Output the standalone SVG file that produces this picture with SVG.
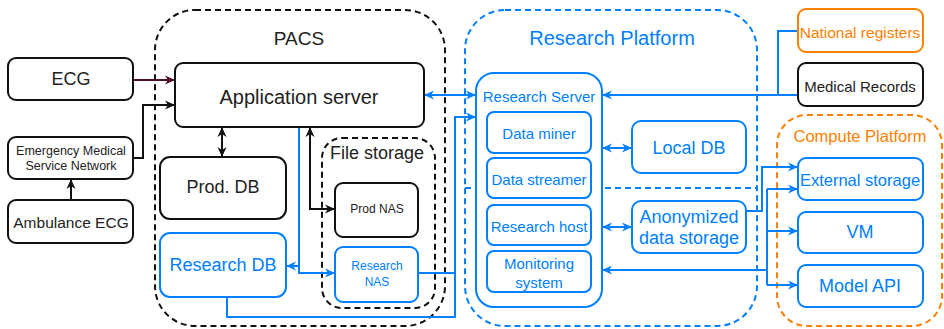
<svg xmlns="http://www.w3.org/2000/svg" width="944" height="329" viewBox="0 0 944 329">
<defs>
<marker id="ab" viewBox="0 0 10 10" refX="10" refY="5" markerWidth="10" markerHeight="10" markerUnits="userSpaceOnUse" orient="auto-start-reverse"><path d="M0,0.5 L10,5 L0,9.5 L3,5 z" fill="#111"/></marker>
<marker id="au" viewBox="0 0 10 10" refX="10" refY="5" markerWidth="10" markerHeight="10" markerUnits="userSpaceOnUse" orient="auto-start-reverse"><path d="M0,0.5 L10,5 L0,9.5 L3,5 z" fill="#007FFF"/></marker>
<marker id="am" viewBox="0 0 10 10" refX="10" refY="5" markerWidth="10" markerHeight="10" markerUnits="userSpaceOnUse" orient="auto-start-reverse"><path d="M0,0.5 L10,5 L0,9.5 L3,5 z" fill="#4A0F2B"/></marker>
</defs>
<style>
text{font-family:"Liberation Sans",Arial,sans-serif;text-anchor:middle;dominant-baseline:central;fill:#222}
.bx{fill:#fff;stroke:#111;stroke-width:2}
.bb{fill:#fff;stroke:#007FFF;stroke-width:2}
.bo{fill:#fff;stroke:#FF8000;stroke-width:2}
.tb{fill:#007FFF}
.to{fill:#FF8000}
.ck{fill:none;stroke:#111;stroke-width:2;stroke-dasharray:6 4}
.cb{fill:none;stroke:#007FFF;stroke-width:2;stroke-dasharray:6 4}
.co{fill:none;stroke:#FF8000;stroke-width:2;stroke-dasharray:6 4}
.lk{fill:none;stroke:#111;stroke-width:2}
.lb{fill:none;stroke:#007FFF;stroke-width:2}
.lm{fill:none;stroke:#4A0F2B;stroke-width:2}
</style>
<rect width="944" height="329" fill="#fff"/>

<g id="containers">
<g id="pacs"><rect class="ck" x="155" y="10" width="290" height="316" rx="40"/><text x="299" y="38" font-size="19">PACS</text></g>
<g id="research-platform"><rect class="cb" x="465" y="10" width="292" height="316" rx="40"/><text class="tb" x="612" y="38" font-size="20">Research Platform</text></g>
<g id="compute-platform"><rect class="co" x="777" y="115" width="165" height="211" rx="30"/><text class="to" x="860" y="136" font-size="16.5">Compute Platform</text></g>
<g id="file-storage"><rect class="ck" x="322" y="138" width="113" height="170" rx="20"/><text x="377" y="153" font-size="18">File storage</text></g>
</g>

<path class="cb" d="M465,188 H757"/>

<g id="connectors">
<path class="lm" d="M133,80 H175" marker-end="url(#am)"/>
<path class="lk" d="M133,158 H143 V105 H175" marker-end="url(#ab)"/>
<path class="lk" d="M71,200 V179" marker-end="url(#ab)"/>
<path class="lk" d="M222,127 V157" marker-start="url(#ab)" marker-end="url(#ab)"/>
<path class="lk" d="M310,127 V209 H335" marker-start="url(#ab)" marker-end="url(#ab)"/>
<path class="lb" d="M299,127 V273 H335" marker-end="url(#au)"/>
<path class="lb" d="M299,266 H286" marker-end="url(#au)"/>
<path class="lb" d="M424,95 H476" marker-start="url(#au)" marker-end="url(#au)"/>
<path class="lb" d="M227,297 V317 H455 V117 H476" marker-end="url(#au)"/>
<path class="lb" d="M418,273 H455"/>
<path class="lb" d="M798,95 H602" marker-end="url(#au)"/>
<path class="lb" d="M798,31 H778 V95"/>
<path class="lb" d="M602,148 H632" marker-start="url(#au)" marker-end="url(#au)"/>
<path class="lb" d="M602,227 H632" marker-start="url(#au)" marker-end="url(#au)"/>
<path class="lb" d="M746,211 H762 V167 H798" marker-end="url(#au)"/>
<path class="lb" d="M767,270 H602" marker-end="url(#au)"/>
<path class="lb" d="M767,189 V285"/>
<path class="lb" d="M767,189 H798" marker-end="url(#au)"/>
<path class="lb" d="M767,231 H798" marker-end="url(#au)"/>
<path class="lb" d="M767,285 H798" marker-end="url(#au)"/>
</g>

<g id="ecg"><rect class="bx" x="8" y="58" width="125" height="42" rx="8"/><text x="71" y="79" font-size="18">ECG</text></g>
<g id="ems"><rect class="bx" x="8" y="137" width="125" height="42" rx="8"/><text x="71" y="151" font-size="12.5">Emergency Medical</text><text x="71" y="166" font-size="12.5">Service Network</text></g>
<g id="ambulance-ecg"><rect class="bx" x="8" y="200" width="125" height="43" rx="8"/><text x="71" y="222" font-size="15.5">Ambulance ECG</text></g>
<g id="app-server"><rect class="bx" x="175" y="63" width="249" height="64" rx="8"/><text x="299" y="97" font-size="20">Application server</text></g>
<g id="prod-db"><rect class="bx" x="160" y="157" width="126" height="62" rx="10"/><text x="223" y="187" font-size="18">Prod. DB</text></g>
<g id="research-db"><rect class="bb" x="160" y="233" width="126" height="64" rx="10"/><text class="tb" x="223" y="265" font-size="18">Research DB</text></g>
<g id="prod-nas"><rect class="bx" x="335" y="183" width="83" height="54" rx="8"/><text x="377" y="209" font-size="12">Prod NAS</text></g>
<g id="research-nas"><rect class="bb" x="335" y="247" width="83" height="55" rx="8"/><text class="tb" x="377" y="266" font-size="12">Research</text><text class="tb" x="377" y="282" font-size="12">NAS</text></g>

<g id="research-server"><rect class="bb" x="476" y="73" width="126" height="234" rx="18"/><text class="tb" x="539" y="96" font-size="15">Research Server</text></g>
<g id="data-miner"><rect class="bb" x="487" y="112" width="104" height="41" rx="7"/><text class="tb" x="539" y="133" font-size="15">Data miner</text></g>
<g id="data-streamer"><rect class="bb" x="487" y="158" width="104" height="40" rx="7"/><text class="tb" x="539" y="179" font-size="15">Data streamer</text></g>
<g id="research-host"><rect class="bb" x="487" y="205" width="104" height="40" rx="7"/><text class="tb" x="539" y="226" font-size="15">Research host</text></g>
<g id="monitoring"><rect class="bb" x="487" y="251" width="104" height="41" rx="7"/><text class="tb" x="539" y="263" font-size="15">Monitoring</text><text class="tb" x="539" y="282" font-size="15">system</text></g>
<g id="local-db"><rect class="bb" x="632" y="121" width="114" height="52" rx="9"/><text class="tb" x="689" y="148" font-size="18">Local DB</text></g>
<g id="anon-storage"><rect class="bb" x="632" y="201" width="114" height="52" rx="9"/><text class="tb" x="689" y="217" font-size="18">Anonymized</text><text class="tb" x="689" y="238" font-size="18">data storage</text></g>

<g id="national-registers"><rect class="bo" x="798" y="9" width="125" height="43" rx="8"/><text class="to" x="860" y="32" font-size="15.5">National registers</text></g>
<g id="medical-records"><rect class="bx" x="798" y="63" width="125" height="43" rx="8"/><text x="860" y="86" font-size="15">Medical Records</text></g>
<g id="external-storage"><rect class="bb" x="798" y="158" width="125" height="42" rx="8"/><text class="tb" x="860" y="180" font-size="16.5">External storage</text></g>
<g id="vm"><rect class="bb" x="798" y="212" width="125" height="41" rx="8"/><text class="tb" x="860" y="232" font-size="18">VM</text></g>
<g id="model-api"><rect class="bb" x="798" y="265" width="125" height="42" rx="8"/><text class="tb" x="860" y="286" font-size="18">Model API</text></g>
</svg>
